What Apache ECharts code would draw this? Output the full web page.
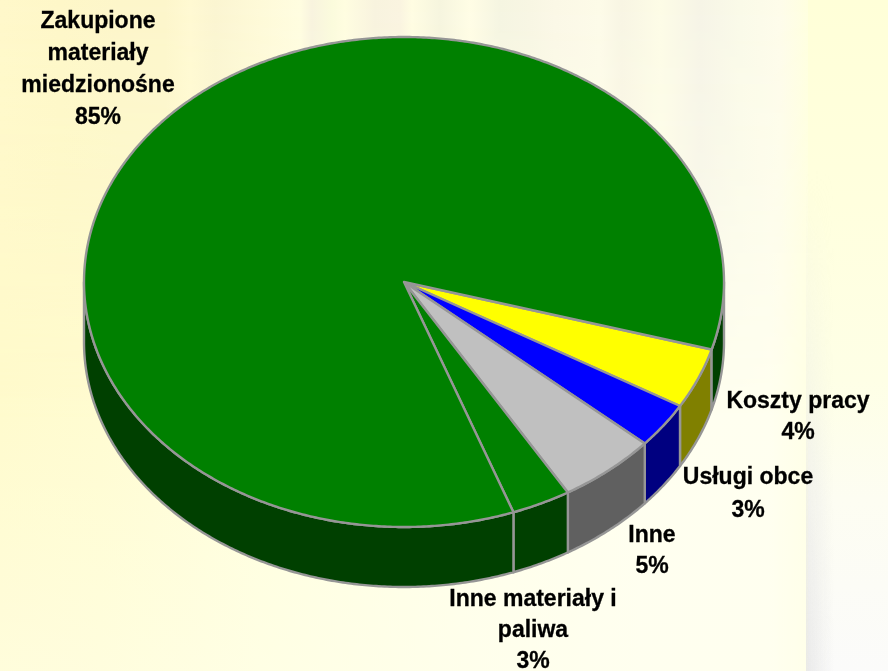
<!DOCTYPE html>
<html lang="pl">
<head>
<meta charset="utf-8">
<title>Struktura kosztów</title>
<style>
  html, body { margin: 0; padding: 0; width: 888px; height: 671px; overflow: hidden; }
  #page { position: relative; width: 888px; height: 671px;
    background: linear-gradient(90deg, #fffbcc 0, #fffcd0 100px, #ffffdc 260px, #ffffea 480px, #fffff0 640px, #fffff0 770px, #ffffe6 808px); }
  /* warmer lower-left wash */
  #wash { position: absolute; inset: 0;
    background: linear-gradient(180deg, rgba(255,255,255,0) 0, rgba(255,255,255,0) 380px, rgba(255,255,238,.45) 671px); }
  /* vertical streaks that fade out towards the middle of the page */
  #streaks { position: absolute; left: 0; top: 0; width: 808px; height: 420px;
    background: linear-gradient(90deg, #fff8ca 0, #fef7c8 60px, #fdf6ca 120px, #fdf6cb 165px, #fff9d2 190px, #fbf5d1 215px,
      #fefad8 260px, #fffde0 300px, #f8f3de 312px, #fbfbdc 332px, #fffde0 345px, #f8f3de 375px, #faf4e0 400px, #fffde2 412px,
      #f6f5de 440px, #fffde5 470px, #f5f5e1 500px, #f8f6e3 530px, #fbf8e6 555px, #fdfbe8 600px, #f8f5e3 622px, #fdfce6 660px,
      #f6f4e6 700px, #fafae8 740px, #fefcea 780px, #ffffdf 808px);
    -webkit-mask-image: linear-gradient(180deg, #000 0, rgba(0,0,0,.75) 170px, rgba(0,0,0,0) 420px);
    mask-image: linear-gradient(180deg, #000 0, rgba(0,0,0,.75) 170px, rgba(0,0,0,0) 420px); }
  /* pale band along the right edge, yellow above and grey-white below */
  #edge { position: absolute; left: 808px; top: 0; width: 80px; height: 671px;
    background: linear-gradient(180deg, #ffffd8 0, #ffffde 200px, #feffe6 380px, #fdfdf2 500px, #fbfbfa 671px); }
  #edgeShade { position: absolute; left: 806px; top: 170px; width: 28px; height: 501px;
    background: linear-gradient(90deg, rgba(230,230,230,.85), rgba(238,238,238,0));
    -webkit-mask-image: linear-gradient(180deg, rgba(0,0,0,0) 0, rgba(0,0,0,.35) 220px, #000 501px);
    mask-image: linear-gradient(180deg, rgba(0,0,0,0) 0, rgba(0,0,0,.35) 220px, #000 501px); }
  #main { position: absolute; left: 0; top: 0; width: 888px; height: 671px; }
</style>
</head>
<body>
<div id="page">
  <div id="wash"></div>
  <div id="streaks"></div>
  <div id="edge"></div>
  <div id="edgeShade"></div>
  <div id="main"></div>
</div>
<script src="https://cdn.jsdelivr.net/npm/echarts@6/dist/echarts.min.js"></script>
<script>
// Cost structure, in percent, clockwise from the start angle
const categories = ['Koszty pracy', 'Usługi obce', 'Inne', 'Inne materiały i\npaliwa', 'Zakupione\nmateriały\nmiedzionośne'];
const shares = [4, 3, 5, 3, 85];
const topColors = ['#ffff00', '#0000ff', '#c0c0c0', '#008000', '#008000'];
const sideColors = ['#808000', '#000080', '#606060', '#004000', '#004000'];

// Geometry of the tilted disc
const disc = { cx: 404, cy: 282, rx: 320, ry: 245, depth: 60, startDeg: 16 };
const edgeColor = '#969696';
const labelCentres = [[798, 402], [748, 478], [652, 536], [533, 600], [98, 22]];
const labelLineHeights = [31, 33, 31, 31, 32];

const total = shares.reduce((a, b) => a + b, 0);
const startAngles = [];
shares.reduce((acc, v, i) => { startAngles[i] = acc; return acc + v / total * 360; }, disc.startDeg);

function rimPoint(deg, drop) {
  const t = deg * Math.PI / 180;
  return [disc.cx + disc.rx * Math.cos(t), disc.cy + disc.ry * Math.sin(t) + drop];
}
function arc(from, to, drop) {
  const pts = [];
  const n = Math.max(2, Math.ceil((to - from) * 2));
  for (let k = 0; k <= n; k++) pts.push(rimPoint(from + (to - from) * k / n, drop));
  return pts;
}

function renderSlice(params, api) {
  const i = params.dataIndex;
  const a0 = startAngles[i];
  const a1 = a0 + api.value(0) / total * 360;
  const children = [];

  // The wall shows only on the near half of the rim
  [[0, 180], [360, 540]].forEach(function (win) {
    const from = Math.max(a0, win[0]);
    const to = Math.min(a1, win[1]);
    if (to <= from) return;
    children.push({
      type: 'polygon',
      z2: 1,
      shape: { points: arc(from, to, 0).concat(arc(from, to, disc.depth).reverse()) },
      style: { fill: sideColors[i], stroke: edgeColor, lineWidth: 2.4, lineJoin: 'round' }
    });
  });

  children.push({
    type: 'polygon',
    z2: 2,
    shape: { points: [[disc.cx, disc.cy]].concat(arc(a0, a1, 0)) },
    style: { fill: topColors[i], stroke: edgeColor, lineWidth: 2.4, lineJoin: 'round' }
  });

  const lines = categories[i].split('\n').concat([api.value(0) + '%']);
  lines.forEach(function (line, j) {
    children.push({
      type: 'text',
      z2: 3,
      style: {
        x: labelCentres[i][0],
        y: labelCentres[i][1] + j * labelLineHeights[i],
        text: line,
        fill: '#000',
        stroke: '#000',
        lineWidth: 0.3,
        font: 'bold 23px "Liberation Sans", Arial, sans-serif',
        align: 'center',
        verticalAlign: 'middle'
      }
    });
  });
  return { type: 'group', children: children };
}

const chart = echarts.init(document.getElementById('main'), null, { renderer: 'canvas' });
chart.setOption({
  backgroundColor: 'transparent',
  animation: false,
  series: [{
    type: 'custom',
    coordinateSystem: 'none',
    silent: true,
    renderItem: renderSlice,
    data: shares.map(function (v, i) { return { name: categories[i], value: [v] }; })
  }]
});
</script>
</body>
</html>
